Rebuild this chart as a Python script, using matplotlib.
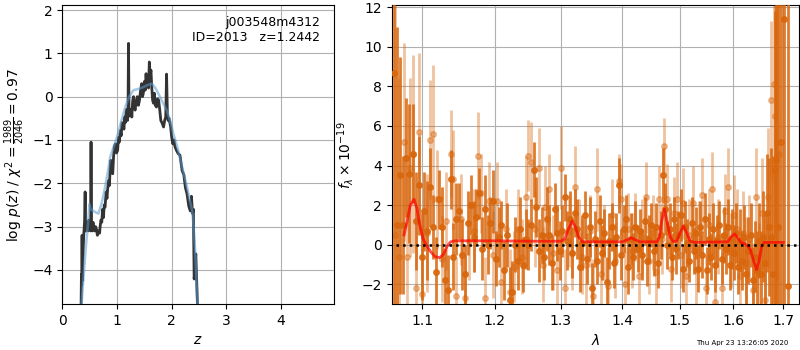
import matplotlib
matplotlib.use("Agg")
import matplotlib.pyplot as plt
from matplotlib.ticker import FixedLocator, NullLocator, FormatStrFormatter

# ---- redshift PDF (left panel) ----
pz_z = [0.342, 0.348, 0.354, 0.360, 0.366, 0.375, 0.390, 0.405, 0.416, 0.424,
        0.436, 0.448, 0.460, 0.472, 0.484, 0.500, 0.510, 0.518, 0.524, 0.530,
        0.545, 0.560, 0.575, 0.590, 0.605, 0.620, 0.640, 0.660, 0.680, 0.690,
        0.705, 0.720, 0.735, 0.751, 0.765, 0.780, 0.800, 0.815, 0.830, 0.843,
        0.860, 0.875, 0.885, 0.900, 0.920, 0.935, 0.950, 0.970, 0.990, 1.010,
        1.025, 1.040, 1.060, 1.075, 1.090, 1.110, 1.125, 1.140, 1.150, 1.170,
        1.190, 1.200, 1.209, 1.218, 1.230, 1.250, 1.270, 1.285, 1.300, 1.315,
        1.330, 1.350, 1.370, 1.390, 1.410, 1.430, 1.450, 1.465, 1.480, 1.500,
        1.515, 1.530, 1.545, 1.560, 1.575, 1.590, 1.605, 1.620, 1.635, 1.650,
        1.665, 1.680, 1.700, 1.720, 1.740, 1.760, 1.780, 1.800, 1.820, 1.850,
        1.870, 1.890, 1.905, 1.920, 1.935, 1.950, 1.980, 2.000, 2.020, 2.040,
        2.060, 2.090, 2.120, 2.150, 2.190, 2.220, 2.250, 2.280, 2.310, 2.340,
        2.360, 2.380, 2.395, 2.410, 2.425, 2.440, 2.455, 2.470]
pz_log = [-4.8, -4.1, -4.35, -3.2, -4.25, -3.7, -3.2, -2.9, -2.2, -3.1,
          -2.95, -3.05, -2.9, -3.1, -2.85, -3.05, -2.95, -3.1, -1.05, -3.0,
          -3.1, -2.9, -3.05, -3.1, -3.0, -3.05, -3.2, -3.1, -3.15, -3.0,
          -2.85, -2.9, -2.6, -2.79, -2.5, -2.55, -2.2, -2.35, -2.1, -1.94,
          -2.05, -1.6, -1.47, -1.75, -1.78, -1.4, -1.15, -1.09, -1.3, -1.24,
          -0.95, -1.05, -0.78, -0.9, -0.6, -0.63, -0.75, -0.47, -0.6, -0.3,
          -0.55, -0.35, 1.23, -0.24, -0.45, -0.3, -0.47, -0.1, 0.0, -0.25,
          -0.31, -0.1, 0.0, -0.2, -0.08, 0.15, 0.3, 0.0, 0.08, 0.35,
          0.15, 0.53, 0.25, 0.38, 0.2, 0.8, 0.5, 0.61, 0.2, -0.08,
          -0.15, 0.08, -0.2, -0.24, -0.05, -0.08, -0.3, -0.55, -0.6, -0.7,
          -0.55, -0.47, 0.52, -0.4, -0.55, -0.5, -0.7, -0.95, -1.09, -1.0,
          -1.16, -1.25, -1.32, -1.35, -1.71, -1.8, -2.1, -2.25, -2.52, -2.64,
          -2.3, -2.7, -2.6, -4.21, -3.9, -3.63, -4.2, -4.8]

fit_z = [0.350, 0.420, 0.470, 0.495, 0.520, 0.580, 0.660, 0.720, 0.780, 0.830,
         0.875, 0.940, 1.000, 1.080, 1.150, 1.220, 1.300, 1.400, 1.480, 1.560,
         1.640, 1.700, 1.760, 1.830, 1.910, 1.970, 2.030, 2.100, 2.160, 2.220,
         2.280, 2.330, 2.370, 2.400, 2.430, 2.470]
fit_log = [-4.8, -3.6, -2.9, -2.48, -2.6, -2.65, -2.7, -2.45, -2.09, -1.75,
           -1.39, -1.15, -0.93, -0.55, -0.24, 0.0, 0.15, 0.18, 0.22, 0.27,
           0.3, 0.2, 0.06, -0.12, -0.32, -0.55, -0.86, -1.15, -1.47, -1.78,
           -2.09, -2.4, -2.6, -3.0, -3.6, -4.8]

# ---- spectrum (right panel) ----
wave_a = [1.063, 1.067, 1.071, 1.075, 1.079, 1.083, 1.087, 1.091, 1.095, 1.099,
          1.102, 1.106, 1.110, 1.114, 1.118, 1.122, 1.126, 1.130, 1.134, 1.138,
          1.142, 1.146, 1.150, 1.154, 1.158, 1.162, 1.166, 1.170, 1.174, 1.178,
          1.182, 1.186, 1.190, 1.194, 1.198, 1.202, 1.206, 1.210, 1.214, 1.218,
          1.222, 1.226, 1.230, 1.234, 1.238, 1.242, 1.246, 1.250, 1.254, 1.258,
          1.262, 1.266, 1.270, 1.274, 1.278, 1.282, 1.286, 1.290, 1.294, 1.298,
          1.302, 1.306, 1.310, 1.314, 1.318, 1.322, 1.326, 1.330, 1.334, 1.338,
          1.342, 1.346, 1.350, 1.354, 1.358, 1.362, 1.366, 1.370, 1.374, 1.378,
          1.382, 1.386, 1.390, 1.394, 1.398, 1.402, 1.406, 1.410, 1.414, 1.418,
          1.422, 1.426, 1.430, 1.434, 1.438, 1.442, 1.446, 1.450, 1.454, 1.458,
          1.462, 1.466, 1.470, 1.474, 1.478, 1.482, 1.486, 1.490, 1.494, 1.498,
          1.502, 1.506, 1.510, 1.514, 1.518, 1.522, 1.526, 1.530, 1.534, 1.538,
          1.542, 1.546, 1.550, 1.554, 1.558, 1.562, 1.566, 1.570, 1.574, 1.578,
          1.582, 1.586, 1.590, 1.594, 1.598, 1.602, 1.606, 1.610, 1.614, 1.618,
          1.622, 1.626, 1.630, 1.634, 1.638, 1.642, 1.646, 1.650, 1.654, 1.658,
          1.662, 1.666, 1.670, 1.674, 1.678, 1.682, 1.686, 1.690, 1.695, 1.701,
          1.709]
flux_a = [8.7, 1.0, 3.5, 1.0, 4.4, 3.6, 4.6, 1.2, 3.0, -0.6,
          1.7, 0.7, 2.9, 0.9, -1.4, 2.3, 0.9, -1.8, -2.3, 3.3,
          -0.6, 1.3, 1.7, -0.5, -1.5, 1.1, 2.0, 0.4, 1.4, 2.6,
          -0.2, 1.8, 0.0, 1.1, 2.2, -0.7, 0.4, 1.0, -1.3, 0.5,
          -2.8, -2.4, 0.0, -0.8, 0.8, -1.0, 0.3, 0.0, 1.0, 3.8,
          1.9, -0.3, 0.5, -0.6, 1.3, 0.5, -0.9, 1.8, 0.6, -0.3,
          0.7, 2.4, 0.2, 1.3, -0.4, 1.6, 0.8, -1.1, 0.1, 1.5,
          -0.7, 0.9, -2.2, 0.3, -0.8, 1.2, -0.4, 0.6, -1.9, 0.2,
          0.9, -0.9, 0.4, 3.0, -0.5, 0.8, 1.3, -1.1, 0.3, -0.6,
          0.9, -0.2, 0.7, -0.5, 1.2, -0.8, 0.3, 1.0, -0.3, 0.9,
          -0.9, 0.5, 3.5, 1.8, 0.0, 0.8, -0.6, 1.3, -0.2, 0.5,
          1.5, -1.2, 0.9, 0.1, -0.8, 1.1, -0.3, 0.6, -1.2, 0.9,
          -0.5, 1.3, -1.3, 0.3, -0.6, 0.8, -1.0, 0.2, 1.0, -0.7,
          0.5, -0.2, 0.9, -1.0, 0.3, -0.4, 0.6, -1.1, 0.2, -0.8,
          0.4, -1.5, -0.3, 0.5, -1.8, -0.6, -1.3, 0.2, -1.5, 0.4,
          -0.9, 1.6, 0.9, 0.4, -1.5, 3.8, 4.3, 0.9, 5.2, 11.4,
          -2.1]
err_a = [12, 10, 6, 3.5, 3.0, 3.5, 2.5, 2.5, 2.5, 2.2,
         2.0, 2.5, 2.0, 1.6, 1.8, 1.5, 2.0, 1.6, 1.8, 1.5,
         1.7, 1.8, 1.4, 1.8, 1.5, 1.6, 1.5, 1.8, 1.4, 1.3,
         1.6, 1.7, 1.5, 1.3, 1.6, 1.4, 1.5, 1.2, 1.5, 1.6,
         1.7, 1.6, 1.4, 1.5, 1.6, 1.4, 1.5, 1.3, 1.3, 1.4,
         1.5, 1.6, 1.4, 1.2, 1.6, 1.5, 1.4, 1.3, 1.4, 1.5,
         1.3, 1.2, 1.5, 1.4, 1.3, 1.2, 1.5, 1.3, 1.4, 1.2,
         1.3, 1.5, 1.3, 1.4, 1.2, 1.3, 1.4, 1.2, 1.3, 1.4,
         1.2, 1.3, 1.2, 1.4, 1.3, 1.2, 1.2, 1.4, 1.3, 1.2,
         1.3, 1.2, 1.1, 1.3, 1.2, 1.3, 1.2, 1.1, 1.3, 1.2,
         1.3, 1.2, 1.4, 1.3, 1.2, 1.3, 1.2, 1.1, 1.3, 1.2,
         1.3, 1.2, 1.3, 1.2, 1.1, 1.3, 1.2, 1.3, 1.2, 1.3,
         1.2, 1.3, 1.2, 1.3, 1.2, 1.3, 1.4, 1.3, 1.2, 1.3,
         1.4, 1.3, 1.4, 1.3, 1.5, 1.4, 1.5, 1.4, 1.6, 1.5,
         1.6, 1.5, 1.7, 1.6, 1.7, 1.8, 2.0, 1.9, 2.2, 2.3,
         2.5, 3.0, 3.5, 4.5, 6.0, 8.0, 10.0, 12.0, 14.0, 16.0,
         16.0]

wave_b = [1.064, 1.070, 1.076, 1.080, 1.084, 1.088, 1.092, 1.096, 1.100, 1.106,
          1.110, 1.114, 1.120, 1.126, 1.132, 1.138, 1.142, 1.146, 1.152, 1.158,
          1.164, 1.170, 1.176, 1.180, 1.186, 1.192, 1.198, 1.204, 1.210, 1.216,
          1.222, 1.228, 1.234, 1.240, 1.246, 1.250, 1.254, 1.260, 1.266, 1.272,
          1.276, 1.282, 1.288, 1.294, 1.300, 1.306, 1.312, 1.318, 1.322, 1.328,
          1.334, 1.340, 1.346, 1.352, 1.358, 1.364, 1.370, 1.376, 1.382, 1.388,
          1.394, 1.398, 1.404, 1.410, 1.416, 1.422, 1.428, 1.434, 1.440, 1.446,
          1.452, 1.458, 1.464, 1.468, 1.472, 1.478, 1.484, 1.490, 1.496, 1.502,
          1.506, 1.512, 1.518, 1.524, 1.530, 1.536, 1.542, 1.548, 1.554, 1.560,
          1.566, 1.572, 1.578, 1.584, 1.590, 1.596, 1.602, 1.608, 1.614, 1.620,
          1.626, 1.632, 1.638, 1.644, 1.650, 1.656, 1.662, 1.668, 1.674, 1.680,
          1.684, 1.688, 1.692]
flux_b = [0.5, -0.6, 5.2, -0.6, 3.9, 4.6, -2.2, 5.7, -2.5, 0.6,
          5.3, 5.6, 2.3, -0.7, 1.2, 4.6, 3.3, -2.6, 1.3, -2.7,
          0.2, 0.7, 4.5, 2.6, -2.7, 2.2, -0.5, 2.2, -1.9, 0.8,
          -2.4, -1.1, 0.8, -0.6, 2.4, 4.5, 4.2, 0.8, 3.9, -1.0,
          1.9, 2.8, -0.4, -1.3, 3.9, -2.2, 0.7, -0.4, 2.9, 0.5,
          -0.6, -1.0, 0.7, -2.6, 2.8, -1.5, 0.1, -2.1, 1.5, -0.8,
          3.2, 2.3, -2.0, 0.8, -0.3, 0.9, -1.6, 0.4, 2.4, -0.8,
          0.6, -1.4, 2.3, 0.3, 5.0, 2.3, -1.2, 1.6, 2.3, -0.5,
          2.1, -1.6, 0.5, 2.1, -1.3, 0.4, 2.5, -2.2, 1.0, 2.8,
          -2.9, 0.4, -2.2, 1.7, 2.9, -0.3, 1.5, 0.8, -1.6, 0.6,
          -0.9, 0.3, -2.3, 2.4, -1.5, 1.6, -2.8, 2.4, 7.3, 8.1,
          6.5, 5.2, 4.6]
err_b = [12, 9, 5, 4, 4.5, 5, 4, 4, 3.5, 3,
         3, 3.5, 2.5, 2.2, 2.5, 2.2, 2.5, 2.0, 2.3, 2.2,
         2.0, 2.1, 2.2, 2.0, 2.1, 2.0, 2.2, 2.0, 2.1, 2.0,
         2.2, 1.8, 2.0, 1.9, 2.1, 1.8, 2.0, 1.9, 2.0, 1.9,
         2.1, 1.8, 1.9, 2.0, 2.1, 2.0, 1.8, 1.9, 2.1, 1.8,
         1.9, 2.0, 1.8, 1.9, 2.1, 1.8, 1.9, 2.0, 1.8, 1.9,
         1.4, 1.8, 1.9, 1.8, 1.9, 1.7, 1.8, 1.9, 1.8, 1.7,
         1.9, 1.8, 1.7, 1.8, 1.4, 1.8, 1.7, 1.8, 1.9, 1.7,
         1.8, 1.7, 1.8, 1.9, 1.7, 1.8, 1.9, 1.7, 1.8, 1.9,
         1.8, 1.9, 1.8, 1.9, 2.0, 1.9, 2.0, 2.0, 2.2, 2.1,
         2.3, 2.2, 2.4, 2.5, 2.6, 2.8, 3.0, 3.5, 4.0, 5.0,
         6.0, 7.0, 8.0]

model_wave = [1.076, 1.080, 1.084, 1.089, 1.093, 1.097, 1.101, 1.105, 1.111, 1.117,
              1.123, 1.128, 1.133, 1.138, 1.144, 1.200, 1.250, 1.300, 1.306, 1.312,
              1.318, 1.323, 1.328, 1.334, 1.400, 1.408, 1.415, 1.422, 1.430, 1.460,
              1.464, 1.468, 1.473, 1.478, 1.483, 1.489, 1.495, 1.501, 1.507, 1.513,
              1.519, 1.526, 1.590, 1.596, 1.603, 1.609, 1.616, 1.624, 1.633, 1.640,
              1.646, 1.651, 1.656, 1.661, 1.700]
model_flux = [0.5, 1.2, 2.0, 2.3, 1.8, 0.9, 0.3, 0.0, -0.35, -0.6,
              -0.65, -0.5, -0.1, 0.15, 0.2, 0.2, 0.18, 0.18, 0.3, 0.8,
              1.2, 0.9, 0.4, 0.15, 0.15, 0.25, 0.35, 0.25, 0.15, 0.15,
              0.4, 1.2, 1.8, 1.1, 0.4, 0.15, 0.2, 0.6, 0.95, 0.6,
              0.2, 0.12, 0.15, 0.4, 0.55, 0.35, 0.1, 0.05, -0.2, -0.8,
              -1.25, -0.8, -0.1, 0.12, 0.12]

orange = "#d8660c"

fig = plt.figure(figsize=(8, 3.5), dpi=100)

# left: p(z)
ax = fig.add_axes([0.078, 0.131, 0.339, 0.854])
ax.plot(pz_z, pz_log, color="0.2", lw=2, zorder=3)
ax.plot(fit_z, fit_log, color="#5b9bd0", lw=1.8, alpha=0.55, zorder=4)
ax.set_xlim(0, 4.96)
ax.set_ylim(-4.79, 2.11)
ax.grid(True)
ax.set_xlabel(r"$z$")
ax.set_ylabel(r"log $p(z)$ / $\chi^2=\frac{1989}{2046}=0.97$")
ax.text(0.95, 0.965, "j003548m4312\nID=2013   z=1.2442", ha="right", va="top",
        fontsize=9, transform=ax.transAxes)

# right: spectrum
ax2 = fig.add_axes([0.4896, 0.131, 0.5095, 0.854])
ax2.errorbar(wave_b, flux_b, yerr=err_b, fmt="o", color=orange, alpha=0.4,
             ms=4, elinewidth=2, capsize=0, zorder=2)
ax2.errorbar(wave_a, flux_a, yerr=err_a, fmt="o", color=orange, alpha=0.85,
             ms=4, elinewidth=2, capsize=0, zorder=3)
ax2.plot(model_wave, model_flux, color="red", lw=2, alpha=0.7, zorder=5)
ax2.plot([1.0, 2.0], [0, 0], color="k", linestyle=":", lw=1.8, zorder=6)
ax2.set_xscale("log")
ax2.set_xlim(1.06, 1.733)
ax2.set_ylim(-3, 12.1)
ax2.xaxis.set_major_locator(FixedLocator([1.1, 1.2, 1.3, 1.4, 1.5, 1.6, 1.7]))
ax2.xaxis.set_major_formatter(FormatStrFormatter("%.1f"))
ax2.xaxis.set_minor_locator(NullLocator())
ax2.grid(True)
ax2.set_xlabel(r"$\lambda$")
ax2.set_ylabel(r"$f_\lambda\times10^{-19}$")

fig.text(1 - 0.015, 0.012, "Thu Apr 23 13:26:05 2020", ha="right", va="bottom",
         fontsize=5)

fig.savefig("out.png", dpi=100)
